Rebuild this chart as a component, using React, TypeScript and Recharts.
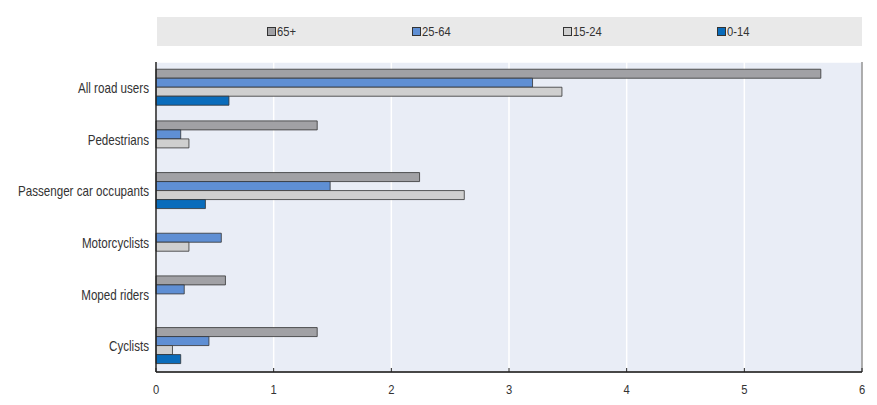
import React from "react";
import {
  Bar,
  BarChart,
  CartesianGrid,
  Legend,
  ReferenceLine,
  XAxis,
  YAxis,
} from "recharts";

const categories = [
  "All road users",
  "Pedestrians",
  "Passenger car occupants",
  "Motorcyclists",
  "Moped riders",
  "Cyclists",
];

const age65plus = [5.65, 1.37, 2.24, null, 0.59, 1.37];
const age25to64 = [3.2, 0.21, 1.48, 0.555, 0.24, 0.45];
const age15to24 = [3.45, 0.28, 2.62, 0.28, null, 0.14];
const age0to14 = [0.62, null, 0.42, null, null, 0.21];

const xTicks = [0, 1, 2, 3, 4, 5, 6];
const boundaryTicks = [1, 2, 3, 4, 5];

const series = [
  { key: "a65", name: "65+", color: "#a1a1a5" },
  { key: "a25", name: "25-64", color: "#5f8fd4" },
  { key: "a15", name: "15-24", color: "#cfcfcf" },
  { key: "a0", name: "0-14", color: "#0a6cbb" },
];

const data = categories.map((name, i) => ({
  name,
  a65: age65plus[i],
  a25: age25to64[i],
  a15: age15to24[i],
  a0: age0to14[i],
}));

const FONT = "'Liberation Sans', Arial, sans-serif";
const NARROW = 0.83;

// narrow-looking text: plain Arial squeezed horizontally
function CatTick(props: any) {
  const { x, y, payload } = props;
  return (
    <g transform={`translate(${x},${y}) scale(${NARROW},1)`}>
      <text textAnchor="end" dy="0.36em" fontSize={14} fill="#333" fontFamily={FONT}>
        {payload.value}
      </text>
    </g>
  );
}

function NumTick(props: any) {
  const { x, y, payload } = props;
  return (
    <g transform={`translate(${x},${y}) scale(${NARROW},1)`}>
      <text textAnchor="middle" dy="0.71em" fontSize={13.5} fill="#333" fontFamily={FONT}>
        {payload.value}
      </text>
    </g>
  );
}

function LegendBox() {
  return (
    <div style={{ height: 45 }}>
      <div
        style={{
          width: 705,
          height: 29,
          background: "#e9e9e9",
          display: "flex",
          justifyContent: "center",
          alignItems: "center",
          fontFamily: FONT,
          fontSize: 13.5,
          color: "#333",
        }}
      >
        {series.map((s) => (
          <div
            key={s.key}
            style={{
              width: 151,
              display: "flex",
              justifyContent: "center",
              alignItems: "center",
              whiteSpace: "nowrap",
            }}
          >
            <span
              style={{
                display: "inline-block",
                width: 7,
                height: 7,
                background: s.color,
                border: "1px solid #333",
                marginRight: 1,
              }}
            />
            <span
              style={{
                display: "inline-block",
                transform: `scaleX(${NARROW})`,
                transformOrigin: "left center",
              }}
            >
              {s.name}
            </span>
          </div>
        ))}
      </div>
    </div>
  );
}

export default function App() {
  return (
    <div style={{ position: "absolute", left: 0, top: 0, background: "#fff" }}>
      <BarChart
        width={877}
        height={405}
        data={data}
        layout="vertical"
        margin={{ top: 17, right: 15, bottom: 0, left: 0 }}
        barCategoryGap="14%"
        barGap={0}
        style={{ fontFamily: FONT }}
      >
        <CartesianGrid
          yAxisId="b"
          fill="#e9edf6"
          stroke="#ffffff"
          strokeWidth={1.5}
        />
        <XAxis
          type="number"
          domain={[0, 6]}
          ticks={xTicks}
          interval={0}
          height={33}
          axisLine={{ stroke: "#222", strokeWidth: 1.5 }}
          tickLine={{ stroke: "#222" }}
          tickSize={-4}
          tickMargin={16}
          tick={<NumTick />}
        />
        <YAxis
          type="category"
          dataKey="name"
          width={156}
          axisLine={{ stroke: "#222", strokeWidth: 1.5 }}
          tickLine={false}
          tickSize={0}
          tickMargin={7}
          tick={<CatTick />}
          interval={0}
        />
        <YAxis
          yAxisId="b"
          type="number"
          domain={[0, 6]}
          reversed
          ticks={boundaryTicks}
          mirror
          width={0}
          axisLine={false}
          tick={false}
          tickLine={{ stroke: "#222" }}
          tickSize={4}
        />
        <ReferenceLine yAxisId="b" y={0} stroke="#777" strokeWidth={1.2} />
        <ReferenceLine x={6} stroke="#777" strokeWidth={1.2} />
        <Legend verticalAlign="top" align="left" content={() => <LegendBox />} wrapperStyle={{ left: 157 }} />
        {series.map((s) => (
          <Bar
            key={s.key}
            dataKey={s.key}
            name={s.name}
            fill={s.color}
            stroke="#333"
            strokeWidth={0.8}
            isAnimationActive={false}
          />
        ))}
      </BarChart>
    </div>
  );
}
